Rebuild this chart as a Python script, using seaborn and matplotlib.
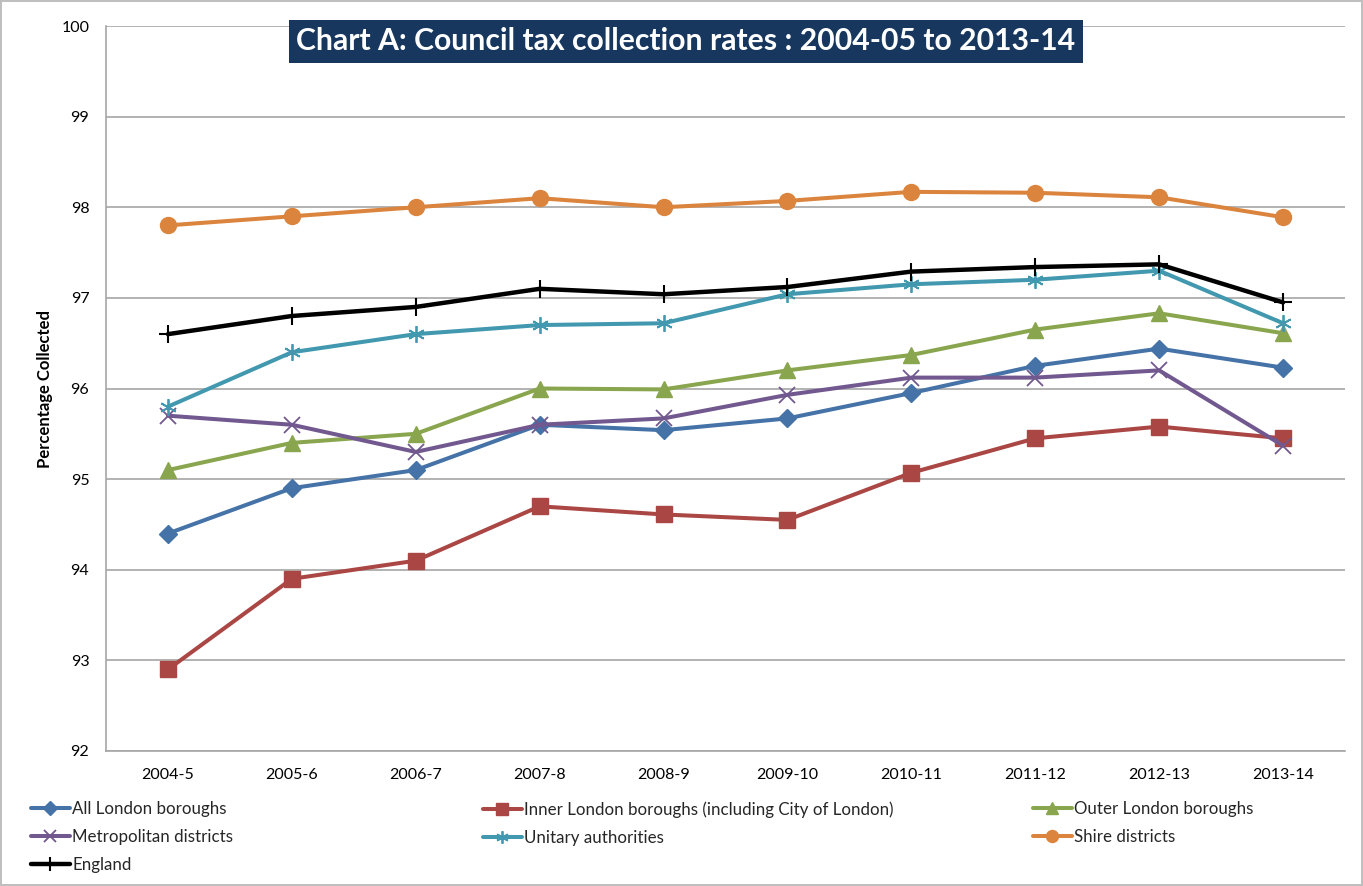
import matplotlib
matplotlib.use("Agg")
import matplotlib.pyplot as plt
import seaborn as sns
import pandas as pd
from matplotlib.lines import Line2D

years = ["2004-5", "2005-6", "2006-7", "2007-8", "2008-9", "2009-10",
         "2010-11", "2011-12", "2012-13", "2013-14"]

all_london = [94.4, 94.9, 95.1, 95.6, 95.54, 95.67, 95.95, 96.25, 96.44, 96.23]
inner_london = [92.9, 93.9, 94.1, 94.7, 94.61, 94.55, 95.07, 95.45, 95.58, 95.45]
outer_london = [95.1, 95.4, 95.5, 96.0, 95.99, 96.2, 96.37, 96.65, 96.83, 96.61]
metropolitan = [95.7, 95.6, 95.3, 95.6, 95.67, 95.93, 96.12, 96.12, 96.2, 95.37]
unitary = [95.8, 96.4, 96.6, 96.7, 96.72, 97.04, 97.15, 97.2, 97.3, 96.72]
shire = [97.8, 97.9, 98.0, 98.1, 98.0, 98.07, 98.17, 98.16, 98.11, 97.89]
england = [96.6, 96.8, 96.9, 97.1, 97.04, 97.12, 97.29, 97.34, 97.37, 96.95]

series_names = ["All London boroughs",
                "Inner London boroughs (including City of London)",
                "Outer London boroughs",
                "Metropolitan districts",
                "Unitary authorities",
                "Shire districts",
                "England"]
series_values = [all_london, inner_london, outer_london, metropolitan,
                 unitary, shire, england]

colors = ["#4572A7", "#AA4643", "#89A54E", "#71588F", "#4198AF", "#DB843D", "#000000"]
markers = ["D", "s", "^", "x", (6, 2, 0), "o", "+"]
msizes = [9, 11, 11, 11, 12, 11.5, 13]
mews = [1, 1, 1, 1.3, 1.3, 1, 1.5]

rows = []
for name, vals in zip(series_names, series_values):
    for i, (yr, v) in enumerate(zip(years, vals)):
        rows.append({"series": name, "x": i, "year": yr, "value": v})
df = pd.DataFrame(rows)

sns.set_theme(style="white")
narrow = ["Lato", "DejaVu Sans"]
plt.rcParams["font.family"] = narrow

fig = plt.figure(figsize=(13.63, 8.86), dpi=100)
fig.patch.set_edgecolor("#BFBFBF")
fig.patch.set_linewidth(1.5)
ax = fig.add_axes([106 / 1363, 1 - 751 / 886, (1345 - 106) / 1363, (751 - 26) / 886])

handles = []
for name, c, m, ms, mew in zip(series_names, colors, markers, msizes, mews):
    sub = df[df["series"] == name]
    lw = 3.2 if name == "England" else 2.9
    sns.lineplot(data=sub, x="x", y="value", ax=ax, color=c, linewidth=lw,
                 marker=m, markersize=ms, markeredgecolor=c, markerfacecolor=c,
                 markeredgewidth=mew, legend=False, zorder=3)
    handles.append(Line2D([0], [0], color=c, linewidth=lw, marker=m,
                          markersize=ms * 0.75, markeredgecolor=c,
                          markerfacecolor=c, markeredgewidth=mew))

ax.set_xlim(-0.5, 9.5)
ax.set_ylim(92, 100)
ax.set_xticks(range(len(years)))
ax.set_xticklabels(years, fontsize=11.5, color="black")
ax.set_yticks(range(92, 101))
ax.set_yticklabels([str(v) for v in range(92, 101)], fontsize=11.5, color="black")
ax.yaxis.grid(True, color="#A6A6A6", linewidth=1.2)
ax.xaxis.grid(False)
for s in ["top", "right"]:
    ax.spines[s].set_visible(False)
ax.spines["left"].set_color("#A6A6A6")
ax.spines["left"].set_linewidth(1.2)
ax.spines["bottom"].set_color("#A6A6A6")
ax.spines["bottom"].set_linewidth(1.2)
ax.tick_params(axis="both", length=0, pad=12)
ax.set_xlabel("")
ax.set_ylabel("Percentage Collected", fontsize=12, fontweight="bold", color="black")
ax.yaxis.set_label_coords((45 - 106) / 1239, 0.5)
ax.yaxis.label.set_va("center")

ax.text(0.468, 0.979, "Chart A: Council tax collection rates : 2004-05 to 2013-14",
        transform=ax.transAxes, ha="center", va="center", color="white",
        fontsize=21.7, fontweight="bold",
        bbox=dict(boxstyle="square,pad=0.25", facecolor="#17375E", edgecolor="none"),
        zorder=5)

# legend in three columns, filled row-wise as in the reference
col_groups = [[0, 3, 6], [1, 4], [2, 5]]
col_x = [31 / 1363, 483 / 1363, 1033 / 1363]
for grp, x0 in zip(col_groups, col_x):
    fig.legend([handles[i] for i in grp], [series_names[i] for i in grp],
               loc="upper left", bbox_to_anchor=(x0, 1 - 801 / 886),
               frameon=False, prop={"size": 12.2},
               handlelength=2.3, handletextpad=0.12, labelspacing=0.72,
               borderaxespad=0, borderpad=0)

fig.savefig("out.png", dpi=100, edgecolor=fig.get_edgecolor())
